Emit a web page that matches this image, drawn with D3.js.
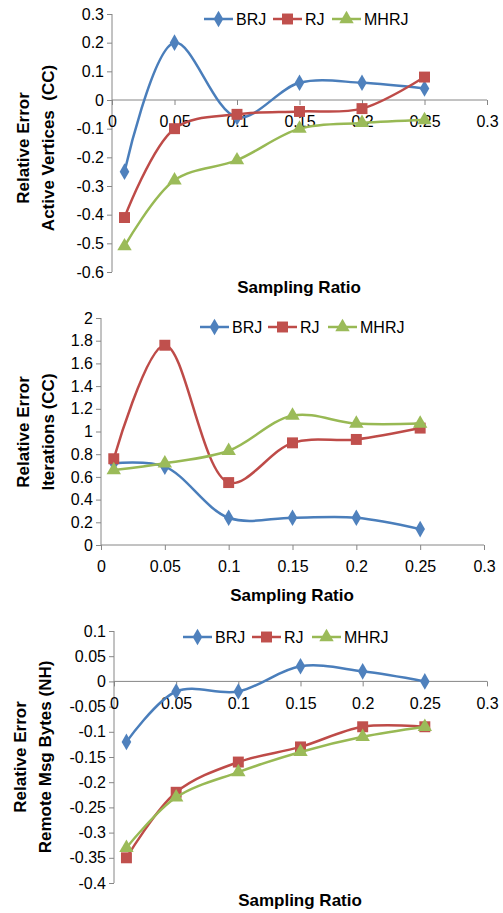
<!DOCTYPE html>
<html>
<head>
<meta charset="utf-8">
<script src="https://cdn.jsdelivr.net/npm/d3@7"></script>
<style>
  body { margin: 0; background: #fff; }
  text { font-family: "Liberation Sans", Arial, sans-serif; fill: #000; }
</style>
</head>
<body>
<div id="chart"></div>
<script>
// data
const ratios = [0.01, 0.05, 0.1, 0.15, 0.2, 0.25];
const seriesNames = ["BRJ", "RJ", "MHRJ"];
const xTicks = [0, 0.05, 0.1, 0.15, 0.2, 0.25, 0.3];

const activeBRJ = [-0.25, 0.2, -0.06, 0.06, 0.06, 0.04];
const activeRJ = [-0.41, -0.1, -0.05, -0.04, -0.03, 0.08];
const activeMHRJ = [-0.51, -0.28, -0.21, -0.1, -0.08, -0.07];
const activeTicks = [0.3, 0.2, 0.1, 0, -0.1, -0.2, -0.3, -0.4, -0.5, -0.6];

const iterBRJ = [0.72, 0.69, 0.24, 0.24, 0.24, 0.14];
const iterRJ = [0.76, 1.76, 0.55, 0.9, 0.93, 1.03];
const iterMHRJ = [0.66, 0.72, 0.83, 1.14, 1.07, 1.07];
const iterTicks = [0, 0.2, 0.4, 0.6, 0.8, 1, 1.2, 1.4, 1.6, 1.8, 2];

const bytesBRJ = [-0.12, -0.02, -0.02, 0.03, 0.02, 0];
const bytesRJ = [-0.35, -0.22, -0.16, -0.13, -0.09, -0.09];
const bytesMHRJ = [-0.33, -0.23, -0.18, -0.14, -0.11, -0.09];
const bytesTicks = [0.1, 0.05, 0, -0.05, -0.1, -0.15, -0.2, -0.25, -0.3, -0.35, -0.4];

const COLORS = {
  BRJ: { line: "#4a7ebb", fill: "#4f81bd" },
  RJ: { line: "#be4b48", fill: "#c0504d" },
  MHRJ: { line: "#98b954", fill: "#9bbb59" }
};
const SYMBOLS = { BRJ: d3.symbolDiamond, RJ: d3.symbolSquare, MHRJ: d3.symbolTriangle };
const SYM_SIZE = { BRJ: 80, RJ: 120, MHRJ: 90 };
const AXIS_COLOR = "#868686";

const svg = d3.select("#chart").append("svg")
  .attr("width", 503)
  .attr("height", 913);

const fmt = v => {
  const s = String(+v.toFixed(2));
  return s === "-0" ? "0" : s;
};

function drawPanel(p) {
  const g = svg.append("g");

  const x = d3.scaleLinear().domain([0, 0.3]).range([p.left, p.right]);
  const y = d3.scaleLinear().domain(p.yDomain).range([p.bottom, p.top]);

  // y axis
  const yAxis = g.append("g")
    .attr("transform", `translate(${p.left},0)`)
    .call(d3.axisLeft(y).tickValues(p.yTicks).tickSize(5).tickPadding(3).tickFormat(fmt));
  yAxis.select(".domain").attr("stroke", AXIS_COLOR).attr("d", `M0,${p.top}V${p.bottom}`);
  yAxis.selectAll(".tick line").attr("stroke", AXIS_COLOR);
  yAxis.selectAll(".tick text").style("font-size", "16px").attr("fill", "#000");

  // x axis
  const xAxisY = p.xAxisAt0 ? y(0) : p.bottom;
  const xAxis = g.append("g")
    .attr("transform", `translate(0,${xAxisY})`)
    .call(d3.axisBottom(x).tickValues(xTicks).tickSize(5).tickPadding(p.xPad).tickFormat(fmt));
  xAxis.select(".domain").attr("stroke", AXIS_COLOR).attr("d", `M${p.left},0H${p.right}`);
  xAxis.selectAll(".tick line").attr("stroke", AXIS_COLOR);
  xAxis.selectAll(".tick text").style("font-size", "16px").attr("fill", "#000");

  // series
  const line = d3.line()
    .x((d, i) => x(ratios[i]))
    .y(d => y(d))
    .curve(d3.curveCatmullRom.alpha(0.5));

  p.series.forEach((vals, si) => {
    const name = seriesNames[si];
    g.append("path")
      .datum(vals)
      .attr("d", line)
      .attr("fill", "none")
      .attr("stroke", COLORS[name].line)
      .attr("stroke-width", 2.5);
    g.selectAll(null)
      .data(vals)
      .join("path")
      .attr("transform", (d, i) => `translate(${x(ratios[i])},${y(d)})`)
      .attr("d", d3.symbol().type(SYMBOLS[name]).size(SYM_SIZE[name]))
      .attr("fill", COLORS[name].fill);
  });

  // legend
  seriesNames.forEach((name, i) => {
    const lx = p.legendX[i];
    const lg = g.append("g").attr("transform", `translate(${lx},${p.legendY})`);
    lg.append("line")
      .attr("x1", 0).attr("x2", 29)
      .attr("stroke", COLORS[name].line)
      .attr("stroke-width", 2.5);
    lg.append("path")
      .attr("transform", "translate(14.5,0)")
      .attr("d", d3.symbol().type(SYMBOLS[name]).size(SYM_SIZE[name]))
      .attr("fill", COLORS[name].fill);
    lg.append("text")
      .attr("x", 32)
      .attr("dy", "0.35em")
      .style("font-size", "16px")
      .text(name);
  });

  // axis titles
  g.append("text")
    .attr("x", p.xTitleX)
    .attr("y", p.xTitleY)
    .attr("dy", "0.35em")
    .attr("text-anchor", "middle")
    .style("font-size", "17px")
    .style("font-weight", "bold")
    .text("Sampling Ratio");

  p.yTitle.forEach((t, i) => {
    g.append("text")
      .attr("transform", `translate(${p.yTitleX[i]},${p.yTitleY}) rotate(-90)`)
      .attr("dy", "0.35em")
      .attr("text-anchor", "middle")
      .style("font-size", "17px")
      .style("font-weight", "bold")
      .style("white-space", "pre")
      .text(t);
  });
}

drawPanel({
  left: 112, right: 487, top: 14, bottom: 272,
  yDomain: [-0.6, 0.3], yTicks: activeTicks, xAxisAt0: true, xPad: 11,
  series: [activeBRJ, activeRJ, activeMHRJ],
  legendX: [204, 273, 332], legendY: 19,
  xTitleX: 299, xTitleY: 287,
  yTitle: ["Relative Error", "Active Vertices  (CC)"], yTitleX: [23, 48], yTitleY: 148
});

drawPanel({
  left: 101, right: 484, top: 318, bottom: 545,
  yDomain: [0, 2], yTicks: iterTicks, xAxisAt0: false, xPad: 11,
  series: [iterBRJ, iterRJ, iterMHRJ],
  legendX: [200, 268, 328], legendY: 327,
  xTitleX: 292, xTitleY: 595,
  yTitle: ["Relative Error", "Iterations (CC)"], yTitleX: [23, 48], yTitleY: 432
});

drawPanel({
  left: 114, right: 487, top: 631, bottom: 883,
  yDomain: [-0.4, 0.1], yTicks: bytesTicks, xAxisAt0: true, xPad: 11,
  series: [bytesBRJ, bytesRJ, bytesMHRJ],
  legendX: [183, 252, 312], legendY: 637,
  xTitleX: 300, xTitleY: 900,
  yTitle: ["Relative Error", "Remote Msg Bytes (NH)"], yTitleX: [20, 45], yTitleY: 757
});
</script>
</body>
</html>
